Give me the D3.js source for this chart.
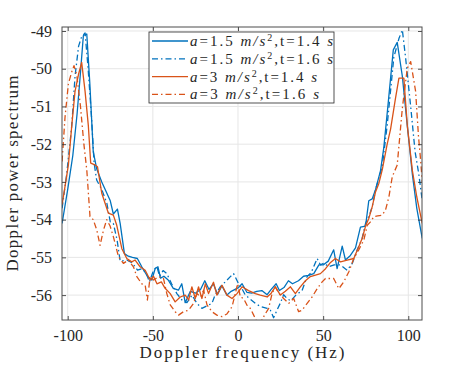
<!DOCTYPE html>
<html>
<head>
<meta charset="utf-8">
<script src="https://cdn.jsdelivr.net/npm/d3@7"></script>
<style>
  body { margin: 0; background: #fff; }
  text { font-family: "Liberation Serif", "Times New Roman", serif; fill: #262626; }
</style>
</head>
<body>
<svg id="chart" width="474" height="365"></svg>
<script>
// [Doppler frequency (Hz), power]
const a15t14 = [[-103.3,-54.1],[-100,-53.2],[-97,-52.3],[-94.5,-51.2],[-92.5,-50.1],[-90.8,-49.12],[-88.8,-49.08],[-87,-50.4],[-85,-52.2],[-83,-52.65],[-80,-53.0],[-77,-53.3],[-75,-53.5],[-73.2,-53.85],[-70.8,-53.72],[-69.2,-54.1],[-66.7,-54.9],[-64.4,-54.97],[-62,-55.0],[-59.1,-55.03],[-56.5,-55.25],[-53.2,-55.5],[-50.6,-55.6],[-48.6,-55.29],[-47,-55.25],[-45.5,-55.55],[-43.5,-55.5],[-41,-55.6],[-38,-55.82],[-35,-55.87],[-33,-55.7],[-31,-56.2],[-28,-55.9],[-25,-55.95],[-22,-55.85],[-19.5,-55.62],[-17,-55.85],[-14.5,-55.7],[-12,-55.98],[-9.5,-55.75],[-6.5,-56.0],[-4,-55.9],[0.3,-55.8],[2.4,-55.7],[5.3,-55.93],[8,-55.95],[11,-55.9],[14,-55.88],[17.1,-55.99],[19.5,-55.85],[22.4,-55.7],[24.3,-55.88],[27,-55.8],[29.6,-55.62],[32,-55.7],[35.5,-55.62],[38.5,-55.5],[41.5,-55.48],[44.5,-55.43],[47.5,-55.2],[50,-55.2],[53,-55.1],[56.2,-54.8],[58.2,-55.3],[61.2,-54.7],[63.1,-55.07],[66,-54.95],[69,-54.75],[71.9,-54.2],[74.9,-54.17],[76.8,-53.5],[78.8,-53.45],[80.8,-53.2],[83.7,-52.7],[85.6,-52.1],[88,-51.0],[91.2,-49.5],[93.5,-49.3],[96.5,-50.2],[99.4,-51.5],[102.4,-52.8],[105,-53.7],[108.2,-54.5]]

const a15t16 = [[-103.3,-53.7],[-100.6,-52.8],[-97.6,-51.5],[-95.7,-50.2],[-93.6,-49.4],[-91.8,-49.15],[-89.8,-49.05],[-88,-50.0],[-86,-51.3],[-84.5,-52.5],[-83,-52.95],[-80,-53.2],[-77,-53.57],[-75,-54.06],[-73.2,-54.1],[-71,-54.54],[-69.2,-55.1],[-65.3,-55.07],[-62,-55.15],[-59,-55.34],[-56.5,-55.3],[-54,-55.4],[-52,-55.65],[-49.6,-55.34],[-47.6,-55.25],[-46,-55.5],[-44,-55.35],[-41.8,-55.43],[-39,-55.7],[-35.9,-55.96],[-32.9,-56.13],[-30,-56.2],[-27,-56.0],[-24.1,-56.22],[-21.2,-56.35],[-18,-56.28],[-15.3,-56.22],[-13.4,-55.99],[-10.4,-55.78],[-7.5,-55.65],[-4.5,-55.51],[-2.6,-55.43],[0.35,-55.7],[2,-55.8],[4.3,-56.0],[7,-56.1],[10.2,-56.22],[13,-56.3],[17.1,-56.35],[19,-56.4],[20.9,-56.6],[22.9,-56.4],[25,-56.2],[26.8,-55.99],[29,-56.1],[31,-56.15],[34,-56.0],[37.6,-55.88],[40.6,-55.51],[43,-55.4],[46.5,-55.03],[48.4,-55.2],[50.5,-55.15],[53.3,-55.25],[56.5,-55.2],[60.2,-55.2],[64.1,-55.34],[67.1,-55.16],[70,-54.8],[72.9,-54.5],[74.9,-54.1],[77,-53.9],[78.8,-53.66],[80.8,-53.2],[82.7,-52.9],[84.7,-52.6],[87.6,-51.5],[91.5,-49.7],[94.5,-49.2],[96.5,-48.97],[98.4,-49.7],[101.4,-51.0],[104,-52.2],[106.2,-52.8],[108.2,-53.5]]

const a3t14 = [[-103.3,-53.6],[-101.5,-53.1],[-99.6,-52.55],[-97.6,-51.5],[-95.7,-50.6],[-93.7,-50.16],[-91.8,-49.83],[-89.8,-50.6],[-87.9,-51.5],[-86.5,-52.5],[-84,-52.55],[-82.5,-52.6],[-80,-53.3],[-76.1,-53.83],[-73.2,-53.88],[-71.2,-54.15],[-68.2,-54.77],[-65.3,-55.03],[-62.4,-55.12],[-60.4,-55.07],[-57.5,-55.25],[-54.5,-55.34],[-51.6,-55.6],[-49.6,-55.5],[-47.6,-55.7],[-45,-55.65],[-42.8,-55.82],[-39.8,-55.96],[-36.9,-56.18],[-33.9,-56.05],[-31,-56.0],[-29,-56.13],[-27.1,-55.78],[-25.1,-56.09],[-23.2,-55.78],[-21.2,-56.09],[-19.2,-55.7],[-17.3,-55.96],[-14.4,-55.66],[-12.4,-56.0],[-9.4,-55.74],[-6.5,-56.0],[-3.5,-56.09],[-0.6,-55.96],[2.4,-55.78],[6.2,-55.88],[10.2,-55.96],[13.1,-56.0],[17.1,-56.05],[19.5,-55.95],[21.9,-55.78],[24.9,-56.0],[27.8,-55.9],[30.8,-55.78],[33.7,-55.96],[36.6,-55.78],[39.6,-55.62],[42.5,-55.51],[45.5,-55.47],[48.4,-55.43],[51.4,-55.3],[54,-55.15],[57.2,-55.03],[60.2,-55.12],[64.1,-55.07],[68,-55.03],[70.9,-54.72],[72.9,-54.5],[74.9,-54.17],[76.8,-53.97],[78.8,-53.66],[80.8,-53.26],[82.7,-53.04],[84.7,-52.68],[87.6,-52.0],[89.6,-51.6],[92.5,-50.78],[94.5,-50.25],[97.4,-50.25],[99.4,-51.5],[102.4,-52.7],[105,-53.4],[108.2,-54.1]]

const a3t16 = [[-103.3,-52.46],[-101.6,-51.3],[-99.6,-50.4],[-97.6,-50.08],[-96.3,-49.92],[-94.7,-50.16],[-92.5,-51.0],[-90.5,-52.0],[-88.8,-52.68],[-86.9,-53.92],[-85,-54.0],[-82.9,-54.28],[-81,-54.68],[-79,-54.28],[-77.1,-54.0],[-75.1,-54.17],[-73.2,-54.45],[-70.2,-54.98],[-67.3,-55.16],[-64.4,-55.07],[-61.4,-55.25],[-59.4,-55.51],[-56.5,-55.7],[-54.5,-55.74],[-53.2,-56.13],[-51.6,-55.51],[-49.6,-55.6],[-46.7,-55.51],[-43.8,-55.55],[-41.8,-55.96],[-39.8,-56.26],[-36.9,-56.44],[-34.9,-56.53],[-32,-56.44],[-29,-56.4],[-26.1,-56.22],[-24.1,-55.96],[-22,-56.05],[-20.2,-55.87],[-18.2,-56.26],[-15.3,-56.44],[-12.4,-56.53],[-9.4,-56.57],[-6.5,-56.5],[-3.5,-56.31],[-1.6,-55.96],[-0.2,-55.7],[1.4,-56.05],[3.3,-56.09],[5.3,-56.27],[7.2,-56.35],[9.2,-56.53],[11.2,-56.72],[13,-56.75],[15.1,-56.57],[18,-56.35],[20,-55.96],[21.9,-55.78],[24,-55.95],[26.8,-56.09],[29.8,-56.22],[32.7,-56.09],[35.6,-56.44],[37.6,-56.4],[40.6,-56.22],[43.5,-56.05],[46.5,-55.83],[49.4,-55.65],[51.4,-55.56],[53.3,-55.56],[56.2,-55.56],[59.2,-55.83],[62.1,-55.65],[65.1,-55.38],[68,-55.03],[70.9,-54.8],[73.9,-54.54],[75.9,-54.15],[77.8,-54.06],[79.8,-53.92],[82,-53.9],[84.7,-53.88],[86.6,-53.75],[88.6,-53.4],[90.6,-52.86],[93.5,-52.55],[96.5,-51.05],[99.4,-49.99],[101.4,-49.81],[104.3,-50.6],[106,-51.8],[107.2,-52.4],[108.2,-53.0]]

const xTicks = [-100, -50, 0, 50, 100]
const yTicks = [-49, -50, -51, -52, -53, -54, -55, -56]

// legend label pieces: [text, kind] where kind 1 = italic, 0 = roman, 'sup' = superscript
const series = [
  { data: a15t14, color: '#0072BD', dash: null, labelWidth: 143,
    label: [['a', 1], ['=1.5 ', 0], ['m/s', 1], ['2', 'sup'], [',t=1.4 ', 0], ['s', 1]] },
  { data: a15t16, color: '#0072BD', dash: '6,3,1.5,3', labelWidth: 143,
    label: [['a', 1], ['=1.5 ', 0], ['m/s', 1], ['2', 'sup'], [',t=1.6 ', 0], ['s', 1]] },
  { data: a3t14, color: '#D95319', dash: null, labelWidth: 127,
    label: [['a', 1], ['=3 ', 0], ['m/s', 1], ['2', 'sup'], [',t=1.4 ', 0], ['s', 1]] },
  { data: a3t16, color: '#D95319', dash: '6,3,1.5,3', labelWidth: 129,
    label: [['a', 1], ['=3 ', 0], ['m/s', 1], ['2', 'sup'], [',t=1.6 ', 0], ['s', 1]] },
]

const svg = d3.select('#chart')
const margin = { top: 27, right: 52, bottom: 45, left: 62 }
const width = 474 - margin.left - margin.right
const height = 365 - margin.top - margin.bottom

const xScale = d3.scaleLinear().domain([-103.35, 108.05]).range([0, width])
const yScale = d3.scaleLinear().domain([-56.66, -48.894]).range([height, 0])

const g = svg.append('g').attr('transform', `translate(${margin.left}, ${margin.top})`)

g.append('clipPath').attr('id', 'clip')
  .append('rect').attr('width', width).attr('height', height)

// grid
g.append('g').selectAll('line').data(xTicks).enter().append('line')
  .attr('x1', d => xScale(d)).attr('x2', d => xScale(d))
  .attr('y1', 0).attr('y2', height)
  .attr('stroke', '#e6e6e6').attr('stroke-width', 1)
g.append('g').selectAll('line').data(yTicks).enter().append('line')
  .attr('x1', 0).attr('x2', width)
  .attr('y1', d => yScale(d)).attr('y2', d => yScale(d))
  .attr('stroke', '#e6e6e6').attr('stroke-width', 1)

// lines
const line = d3.line().x(d => xScale(d[0])).y(d => yScale(d[1]))
g.append('g').attr('clip-path', 'url(#clip)')
  .selectAll('path').data(series).enter().append('path')
  .attr('d', d => line(d.data))
  .attr('fill', 'none')
  .attr('stroke', d => d.color)
  .attr('stroke-width', 1.3)
  .attr('stroke-dasharray', d => d.dash)
  .attr('stroke-linejoin', 'round')

// axes, MATLAB style: inward ticks on all sides
const styleAxis = sel => {
  sel.select('.domain').remove()
  sel.selectAll('line').attr('stroke', '#262626').attr('stroke-width', 0.8)
  sel.selectAll('text').attr('font-size', 16).attr('fill', '#262626')
    .attr('font-family', '"Liberation Serif", serif')
}
g.append('g').attr('transform', `translate(0, ${height})`)
  .call(d3.axisBottom(xScale).tickValues(xTicks).tickSizeInner(-4).tickPadding(10).tickFormat(d => d))
  .call(styleAxis)
g.append('g')
  .call(d3.axisTop(xScale).tickValues(xTicks).tickSizeInner(-4).tickFormat(''))
  .call(styleAxis)
g.append('g')
  .call(d3.axisLeft(yScale).tickValues(yTicks).tickSizeInner(-4).tickPadding(10).tickFormat(d => d))
  .call(styleAxis)
g.append('g').attr('transform', `translate(${width}, 0)`)
  .call(d3.axisRight(yScale).tickValues(yTicks).tickSizeInner(-4).tickFormat(''))
  .call(styleAxis)

g.append('rect').attr('width', width).attr('height', height)
  .attr('fill', 'none').attr('stroke', '#4d4d4d').attr('stroke-width', 1)

// axis labels
g.append('text')
  .attr('x', width / 2).attr('y', height + 38)
  .attr('text-anchor', 'middle').attr('font-size', 17)
  .attr('textLength', 205).attr('lengthAdjust', 'spacing')
  .text('Doppler frequency (Hz)')

g.append('text')
  .attr('transform', `translate(${-44}, ${height / 2}) rotate(-90)`)
  .attr('text-anchor', 'middle').attr('font-size', 17)
  .attr('textLength', 196).attr('lengthAdjust', 'spacing')
  .text('Doppler power spectrum')

// legend
const legend = svg.append('g').attr('transform', 'translate(149, 32)')
legend.append('rect').attr('width', 185).attr('height', 71)
  .attr('fill', '#fff').attr('stroke', '#262626').attr('stroke-width', 0.8)

const rows = legend.selectAll('g.row').data(series).enter().append('g')
  .attr('class', 'row')
  .attr('transform', (d, i) => `translate(0, ${9 + i * 17.8})`)

rows.append('line')
  .attr('x1', 3).attr('x2', 39).attr('y1', 0).attr('y2', 0)
  .attr('stroke', d => d.color).attr('stroke-width', 1.3)
  .attr('stroke-dasharray', d => d.dash)

const label = rows.append('text').attr('x', 41).attr('y', 5).attr('font-size', 15)
  .attr('textLength', d => d.labelWidth).attr('lengthAdjust', 'spacing')
label.each(function (d) {
  const t = d3.select(this)
  let afterSup = false
  d.label.forEach(([s, kind]) => {
    const sp = t.append('tspan').text(s)
    if (kind === 1) sp.attr('font-style', 'italic')
    if (kind === 'sup') {
      sp.attr('font-size', 10).attr('dy', -5)
      afterSup = true
    } else if (afterSup) {
      sp.attr('dy', 5)
      afterSup = false
    }
  })
})
</script>
</body>
</html>
